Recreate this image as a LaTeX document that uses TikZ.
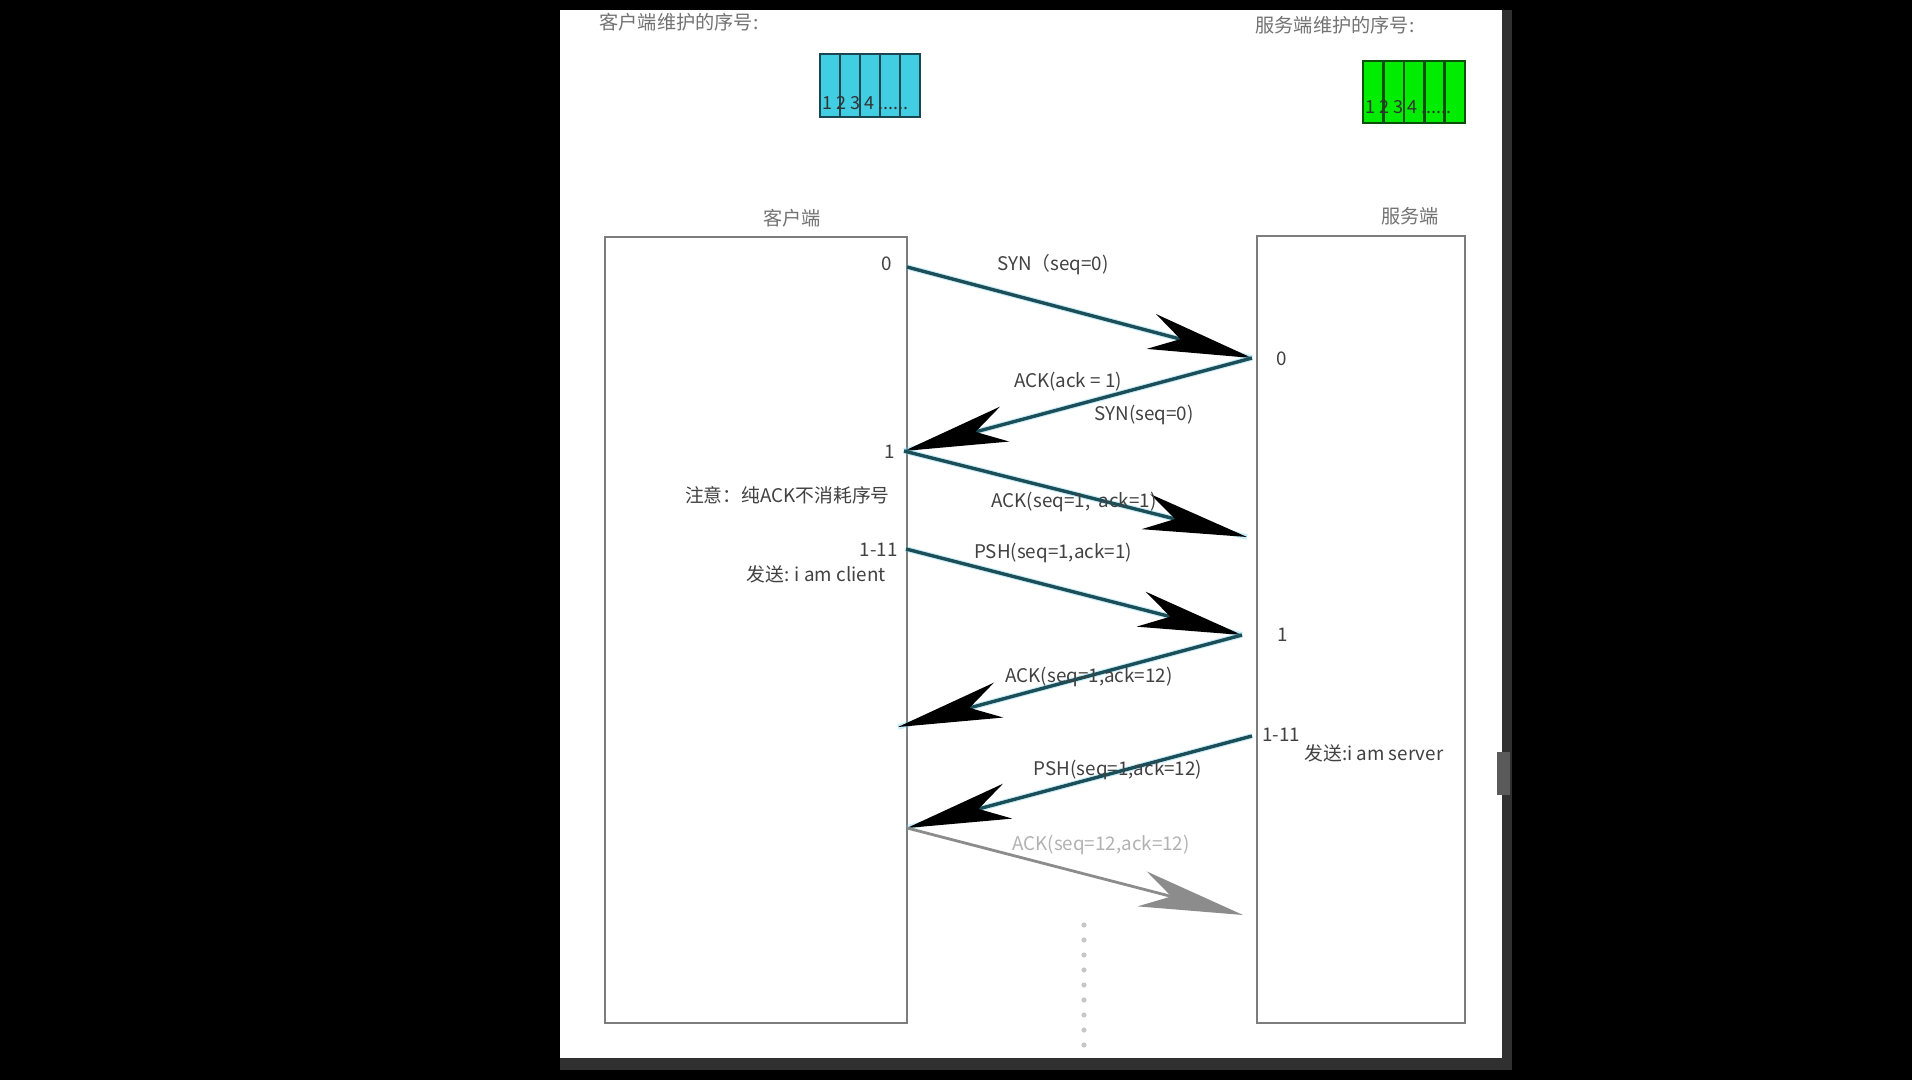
\documentclass[tikz,border=0pt]{standalone}
\usepackage{fontspec}
\setmainfont{Noto Sans CJK SC}
\usetikzlibrary{arrows.meta}
\definecolor{msgline}{RGB}{28,78,88}
\definecolor{boxline}{RGB}{125,125,125}
\definecolor{txtgray}{RGB}{65,65,65}
\definecolor{hdrgray}{RGB}{115,115,115}
\definecolor{cyancell}{RGB}{66,206,226}
\definecolor{cyanedge}{RGB}{25,70,80}
\definecolor{greencell}{RGB}{0,236,0}
\definecolor{greenedge}{RGB}{10,80,10}
\definecolor{pageedge}{RGB}{48,48,48}
\definecolor{lastgray}{RGB}{140,140,140}

\tikzset{
  lbl/.style={text=txtgray, font=\fontsize{9.4pt}{11pt}\selectfont, inner sep=1pt},
  hdr/.style={text=hdrgray, font=\fontsize{9.6pt}{11pt}\selectfont, inner sep=1pt},
  cellnum/.style={text=black!80, font=\fontsize{9pt}{10pt}\selectfont, inner sep=0pt},
  seqcell/.style={draw=#1, line width=1.3pt},
  lifebox/.style={draw=boxline, line width=1pt},
  msg/.style={draw=msgline, line width=1.7pt,
    -{Stealth[length=52pt, width=18pt, inset=15pt, black]},
    preaction={draw=cyan!60!white, line width=2.8pt, opacity=0.35, -}},
  msgfaint/.style={draw=lastgray, line width=1.4pt,
    -{Stealth[length=52pt, width=18pt, inset=15pt, lastgray]}},
  dotline/.style={draw=black!22, line width=2.6pt, line cap=round, dash pattern=on 0pt off 7.5pt}
}

\begin{document}
\begin{tikzpicture}[x=0.5pt, y=-0.5pt]
  \useasboundingbox (0,0) rectangle (1912,1080);
  % screen and page
  \fill[black] (0,0) rectangle (1912,1080);
  \fill[pageedge] (560,10) rectangle (1512,1070);
  \fill[white] (560,10) rectangle (1502,1058);
  \fill[pageedge!80!white] (1497,752) rectangle (1510,795);

  % sequence number windows
  \node[hdr, anchor=west] (chdr) at (597,22) {客户端维护的序号:};
  \node[hdr, anchor=west] (shdr) at (1253,25) {服务端维护的序号:};
  \foreach \i in {0,...,4} {
    \draw[seqcell=cyanedge, fill=cyancell] ({820+20*\i},54) rectangle ++(20,63);
    \draw[seqcell=greenedge, fill=greencell] ({1363+20.4*\i},61) rectangle ++(20.4,62);
  }
  \node[cellnum, anchor=west] (cwin) at (822,103) {1 2 3 4 ......};
  \node[cellnum, anchor=west] (swin) at (1365,107) {1 2 3 4 ......};

  % client and server
  \draw[lifebox] (605,237) rectangle (907,1023);
  \draw[lifebox] (1257,236) rectangle (1465,1023);
  \node[hdr] (cname) at (792,218) {客户端};
  \node[hdr] (sname) at (1410,216) {服务端};

  % sequence numbers
  \node[lbl] (cs0) at (887,264) {0};
  \node[lbl] (ss0) at (1282,359) {0};
  \node[lbl] (cs1) at (890,452) {1};
  \node[lbl] (ss1) at (1283,635) {1};
  \node[lbl, anchor=east] (cs2) at (900,550) {1-11};
  \node[lbl, anchor=west] (ss2) at (1260,735) {1-11};
  \node[lbl, anchor=east] (note) at (892,495) {注意：纯ACK不消耗序号};
  \node[lbl, anchor=east] (csend) at (888,574) {发送: i am client};
  \node[lbl, anchor=west] (ssend) at (1302,753) {发送:i am server};

  % message end points
  \coordinate (c0) at (907,267);
  \coordinate (s0) at (1252,358);
  \coordinate (c1) at (904,451);
  \coordinate (s1a) at (1247,537);
  \coordinate (c2) at (906,549);
  \coordinate (s1) at (1242,635);
  \coordinate (c3) at (898,727);
  \coordinate (s2) at (1252,736);
  \coordinate (c4) at (907,828);
  \coordinate (s3) at (1243,915);

  % messages
  \draw[msg] (c0) -- (s0);
  \draw[msg] (s0) -- (c1);
  \draw[msg] (c1) -- (s1a);
  \draw[msg] (c2) -- (s1);
  \draw[msg] (s1) -- (c3);
  \draw[msg] (s2) -- (c4);
  \draw[msgfaint] (c4) -- (s3);

  \node[lbl] (m1) at (1053,265) {SYN（seq=0)};
  \node[lbl] (m2a) at (1068,382) {ACK(ack = 1)};
  \node[lbl] (m2b) at (1144,415) {SYN(seq=0)};
  \node[lbl] (m3) at (1074,502) {ACK(seq=1,\ \ ack=1)};
  \node[lbl] (m4) at (1053,553) {PSH(seq=1,ack=1)};
  \node[lbl] (m5) at (1089,677) {ACK(seq=1,ack=12)};
  \node[lbl] (m6) at (1118,770) {PSH(seq=1,ack=12)};
  \node[lbl, text=black!30] (m7) at (1101,845) {ACK(seq=12,ack=12)};

  % more to come
  \coordinate (dtop) at (1084,925);
  \coordinate (dbot) at (1084,1058);
  \draw[dotline] (dtop) -- (dbot);
\end{tikzpicture}
\end{document}
